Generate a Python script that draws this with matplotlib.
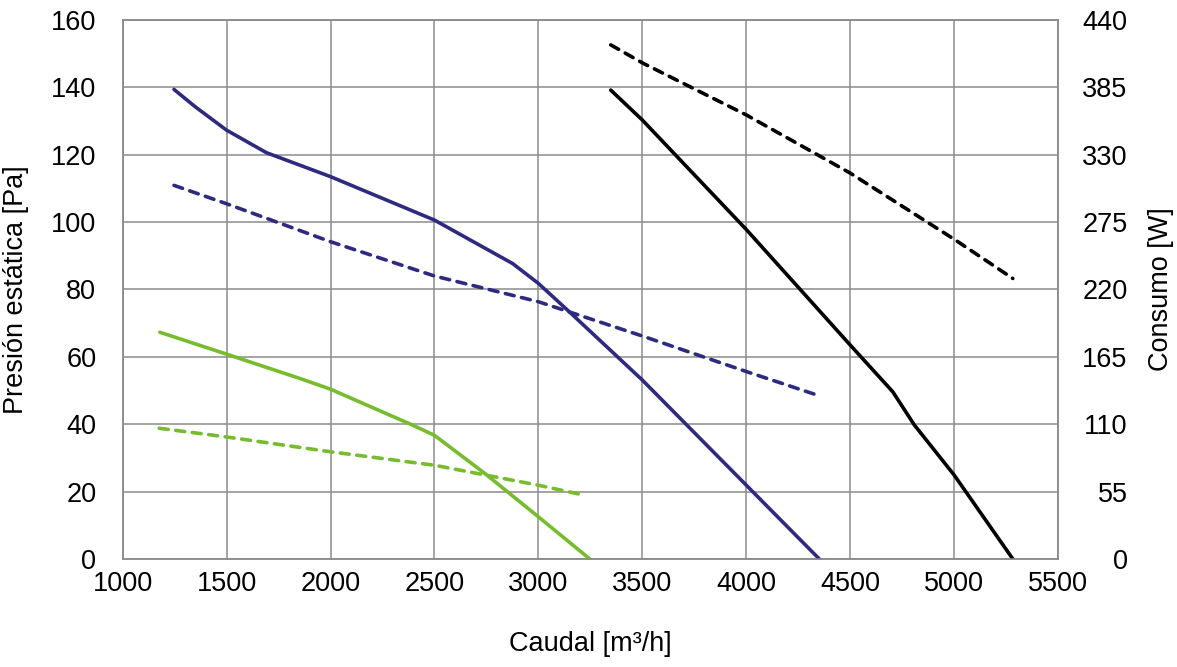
import matplotlib
matplotlib.use("Agg")
import matplotlib.pyplot as plt

# datos: caudal [m3/h], presion [Pa], consumo [W]
azul_q = [1247, 1350, 1500, 1692, 2000, 2500, 2876, 3000, 3157, 3500, 4000, 4351]
azul_p = [139.4, 134.2, 127.3, 120.6, 113.5, 100.6, 87.7, 81.8, 72.9, 53.1, 21.9, 0]
azul_cq = [1247, 1500, 2000, 2500, 3000, 3500, 4000, 4337]
azul_c = [305, 290, 259, 231, 210, 182, 153, 134]

verde_q = [1179, 1500, 1852, 2000, 2396, 2500, 2742, 3000, 3247]
verde_p = [67.3, 60.8, 53.6, 50.4, 39.7, 36.7, 25.4, 12.5, 0]
verde_cq = [1176, 1500, 2000, 2500, 3000, 3222]
verde_c = [106.7, 99.6, 87.5, 76.5, 60.2, 52]

negro_q = [3348, 3500, 4000, 4500, 4705, 4808, 5000, 5282]
negro_p = [139.2, 130.3, 97.8, 63.5, 49.6, 39.8, 24.9, 0]
negro_cq = [3348, 3500, 4000, 4500, 5000, 5282]
negro_c = [419.7, 405, 362.5, 315, 261, 229]

xticks = [1000, 1500, 2000, 2500, 3000, 3500, 4000, 4500, 5000, 5500]
yticks = [0, 20, 40, 60, 80, 100, 120, 140, 160]
y2ticks = [0, 55, 110, 165, 220, 275, 330, 385, 440]

plt.rcParams['font.family'] = ['Liberation Sans', 'DejaVu Sans']

fig = plt.figure(figsize=(11.77, 6.67), dpi=100)
ax = fig.add_axes([0.1042, 0.162, 0.7948, 0.808])
ax2 = ax.twinx()

azul = '#2e2a7f'
verde = '#77bc2f'
gris = '#8c8c8c'
lw = 2.6
dash = (0, (2.5, 2.1))

ax.plot(azul_q, azul_p, color=azul, lw=lw, solid_capstyle='round', solid_joinstyle='round', zorder=3)
ax.plot(verde_q, verde_p, color=verde, lw=lw, solid_capstyle='round', solid_joinstyle='round', zorder=3)
ax.plot(negro_q, negro_p, color='black', lw=lw, solid_capstyle='round', solid_joinstyle='round', zorder=3)
ax2.plot(azul_cq, azul_c, color=azul, lw=lw, ls=dash, dash_capstyle='round', zorder=3)
ax2.plot(verde_cq, verde_c, color=verde, lw=lw, ls=dash, dash_capstyle='round', zorder=3)
ax2.plot(negro_cq, negro_c, color='black', lw=lw, ls=dash, dash_capstyle='round', zorder=3)

ax.set_xlim(1000, 5500)
ax.set_ylim(0, 160)
ax2.set_ylim(0, 440)
ax.set_xticks(xticks)
ax.set_yticks(yticks)
ax2.set_yticks(y2ticks)

ax.grid(True, color=gris, lw=1.1)
ax.set_axisbelow(True)
for a in (ax, ax2):
    for s in a.spines.values():
        s.set_color(gris)
        s.set_linewidth(1.1)

ax.tick_params(axis='both', length=0, labelsize=19.5)
ax.tick_params(axis='y', pad=19)
ax.tick_params(axis='x', pad=9)
ax2.tick_params(axis='y', length=0, labelsize=19.5, pad=50)
for t in ax2.get_yticklabels():
    t.set_horizontalalignment('right')

ax.set_xlabel('Caudal [m³/h]', fontsize=19.5)
ax.xaxis.set_label_coords(0.5, -0.133)
ax.set_ylabel('Presión estática [Pa]', fontsize=19.5)
ax.yaxis.set_label_coords(-0.1, 0.5)
ax2.set_ylabel('Consumo [W]', fontsize=19.5, rotation=90)
ax2.yaxis.set_label_coords(1.096, 0.5)

fig.savefig('out.png', dpi=100)
